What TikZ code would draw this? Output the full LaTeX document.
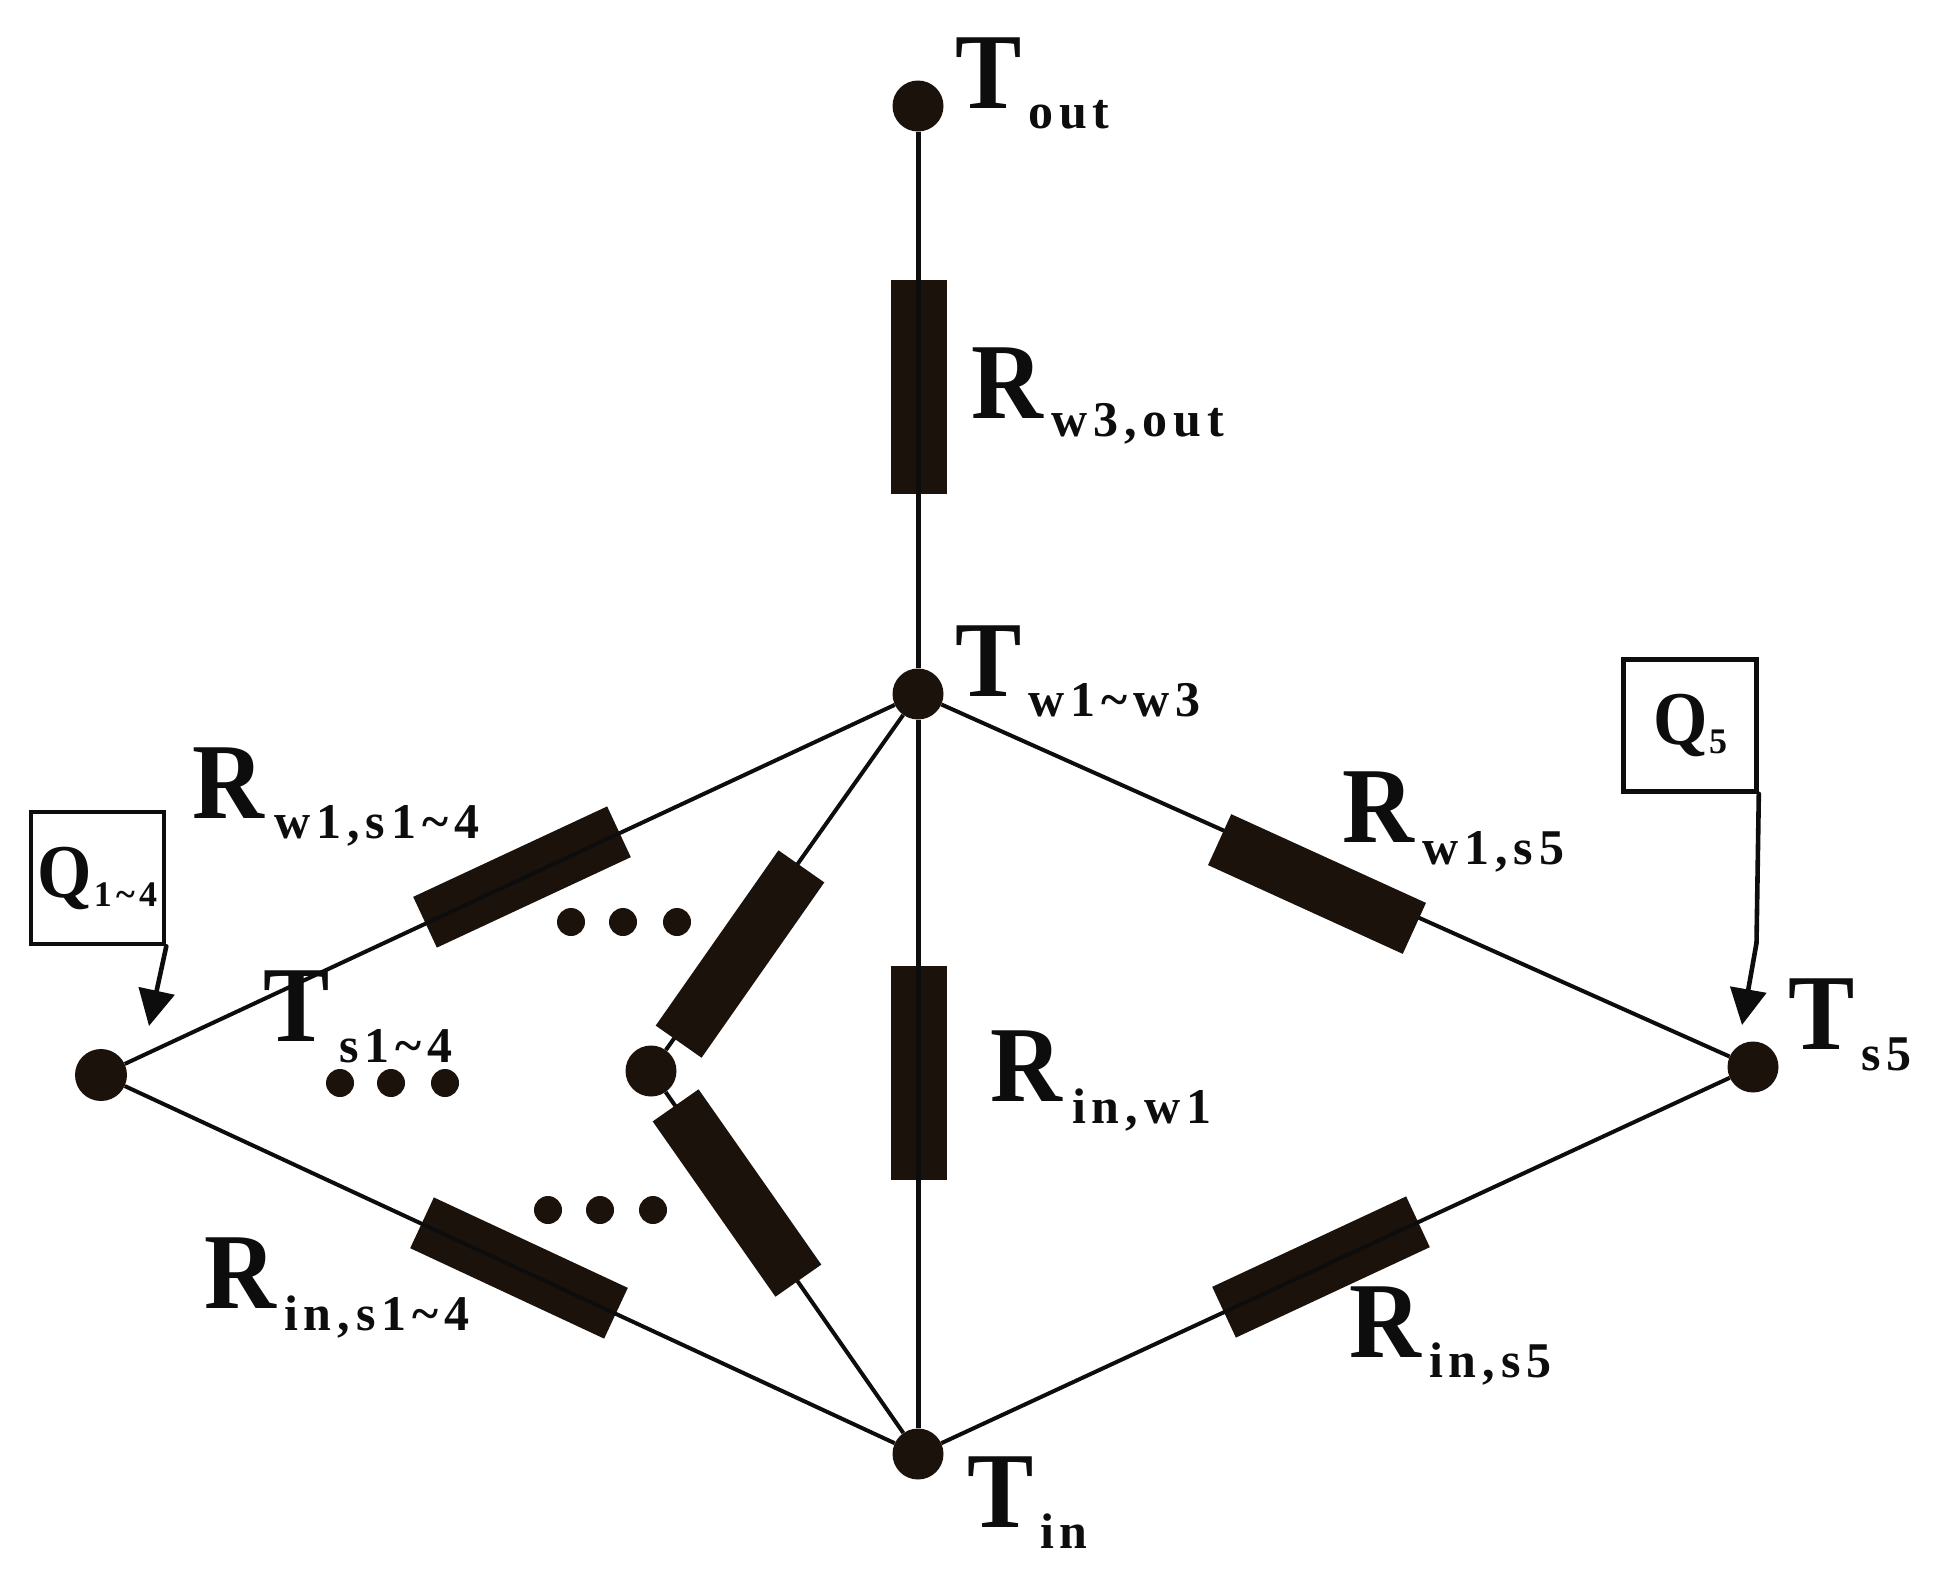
\documentclass[tikz,border=0pt]{standalone}
\usepackage{fontspec}
\usetikzlibrary{arrows.meta}
\setmainfont{Liberation Serif}
\newfontfamily\bigf{Liberation Serif}[FakeStretch=0.92]
\newfontfamily\subf{Liberation Serif}[LetterSpace=12]
\definecolor{ink}{HTML}{0D0D0D}
\definecolor{fillc}{HTML}{1C120C}
\newcommand{\mainsub}[4]{\makebox[#2pt][l]{\fontsize{108}{108}\selectfont\bigf\bfseries #1}\raisebox{-#3pt}{\fontsize{50}{50}\selectfont\subf\bfseries #4}}
\newcommand{\qsub}[3]{\makebox[#2pt][l]{\fontsize{76}{76}\selectfont\bigf\bfseries Q}\raisebox{-9pt}{\fontsize{36}{36}\selectfont\subf\bfseries #3}}
\tikzset{
  dotnode/.style={circle,fill=fillc,draw=none,inner sep=0pt,minimum size=#1},
  resbox/.style={rectangle,fill=fillc,draw=none,inner sep=0pt,minimum width=214pt,minimum height=56pt},
  wire/.style={draw=ink,line width=4pt},
  vwire/.style={draw=ink,line width=5pt},
  lab/.style={anchor=base west,inner sep=0pt,outer sep=0pt,text=ink},
  qbox/.style={rectangle,draw=ink,fill=white,line width=4.6pt,inner sep=0pt,minimum width=133pt,minimum height=132pt,text=ink},
  qarrow/.style={draw=ink,line width=4.6pt,line cap=round,line join=round,-{Triangle[length=36pt,width=36pt]}}
}
\begin{document}
\begin{tikzpicture}[x=1pt,y=-1pt]
\useasboundingbox (0,0) rectangle (1935,1575);
% junctions
\node[dotnode=51pt] (tout) at (918,106) {};
\node[dotnode=51pt] (tw) at (918,694) {};
\node[dotnode=51pt] (tin) at (918,1454) {};
\node[dotnode=51pt] (ts5) at (1753,1067) {};
\node[dotnode=52pt] (ts14) at (101,1075) {};
\node[dotnode=51pt] (tmid) at (651,1071) {};
% wires hidden by their resistors
\draw[wire] (tw) -- (ts5);
\draw[wire] (tw) -- (tmid);
\draw[wire] (tmid) -- (tin);
% resistors
\node[resbox,rotate=90] (rtop) at (918.5,387) {};
\node[resbox,rotate=90] (rcen) at (918.5,1073) {};
\node[resbox,rotate=25] (rul) at (522,877) {};
\node[resbox,rotate=55] (rum) at (740,954) {};
\node[resbox,rotate=-55] (rlm) at (737,1193) {};
\node[resbox,rotate=-25] (rll) at (519,1268) {};
\node[resbox,rotate=-24.5] (rur) at (1317,884) {};
\node[resbox,rotate=25] (rlr) at (1321,1267) {};
% visible wires
\draw[vwire] (tout) -- (tw);
\draw[vwire] (tw) -- (tin);
\draw[wire] (ts14) -- (tw);
\draw[wire] (ts14) -- (tin);
\draw[wire] (tin) -- (ts5);
% dots
\foreach \n/\x/\y in {a/571/922,b/623/922,c/677/922,d/340/1083,e/391/1083,f/445/1083,g/548/1210,h/600/1210,i/653/1210}
  \node[dotnode=28pt] (dot\n) at (\x,\y) {};
% heat-source boxes
\node[qbox] (q14) at (97.5,878) {\qsub{Q}{56}{1\textasciitilde 4}};
\node[qbox] (q5) at (1690,725.5) {\qsub{Q}{56}{5}};
\coordinate (q14tip) at (149,1026);
\coordinate (q5bend) at (1756.5,943);
\coordinate (q5tip) at (1742,1025);
\draw[qarrow] (q14.south east) -- (q14tip);
\draw[qarrow] (q5.south east) -- (q5bend) -- (q5tip);
% labels
\node[lab] (ltout) at (955,108) {\mainsub{T}{73}{20}{out}};
\node[lab] (ltw) at (955,696) {\mainsub{T}{73}{20}{w1\textasciitilde w3}};
\node[lab] (ltin) at (967,1527) {\mainsub{T}{73}{21}{in}};
\node[lab] (lts5) at (1788,1049) {\mainsub{T}{73}{21}{s5}};
\node[lab] (lts14) at (263,1041) {\mainsub{T}{76}{21}{s1\textasciitilde 4}};
\node[lab] (lrtop) at (971,418) {\mainsub{R}{80}{18}{w3,out}};
\node[lab] (lrul) at (192,818) {\mainsub{R}{82}{20}{w1,s1\textasciitilde 4}};
\node[lab] (lrll) at (204,1308) {\mainsub{R}{80}{22}{in,s1\textasciitilde 4}};
\node[lab] (lrcen) at (990,1101) {\mainsub{R}{82}{22}{in,w1}};
\node[lab] (lrur) at (1342,842) {\mainsub{R}{80}{22}{w1,s5}};
\node[lab] (lrlr) at (1349,1357) {\mainsub{R}{80}{20}{in,s5}};
\end{tikzpicture}
\end{document}
